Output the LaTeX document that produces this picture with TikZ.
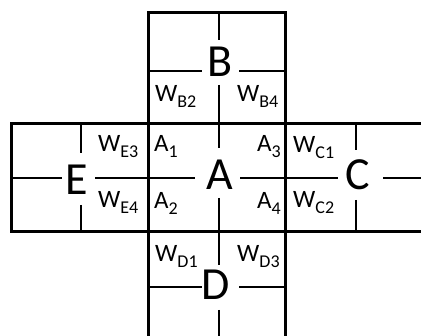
\documentclass[tikz,border=0pt]{standalone}
\usepackage{fontspec}
\setmainfont{Carlito}
\newcommand{\biglet}[1]{\fontsize{46}{46}\selectfont #1}
\newcommand{\sublab}[2]{{\fontsize{25}{25}\selectfont #1}\raisebox{-5.5pt}{\fontsize{18}{18}\selectfont #2}}
\begin{document}
\begin{tikzpicture}[x=1pt,y=-1pt,
  border/.style={line width=3pt},
  cross/.style={line width=1.8pt},
  lbl/.style={inner sep=0pt,anchor=base west},
  letter/.style={inner sep=0pt,anchor=base}]
\useasboundingbox (0,0) rectangle (421,336);
\begin{scope}
\clip (0,0) rectangle (421,336);
% outer borders
\draw[border] (148,13) rectangle (285,124);
\draw[border] (11,124) rectangle (440,232);
\draw[border] (148,124) -- (148,350) (285,124) -- (285,350);
% B cross
\draw[cross] (219,13) -- (219,40) (219,85) -- (219,124);
\draw[cross] (148,71) -- (202,71) (239,71) -- (285,71);
% A cross
\draw[cross] (219,124) -- (219,148) (219,198) -- (219,232);
\draw[cross] (148,178) -- (195,178) (240,178) -- (285,178);
% E cross
\draw[cross] (81,124) -- (81,153) (81,205) -- (81,232);
\draw[cross] (11,178) -- (62,178) (95,178) -- (148,178);
% C cross
\draw[cross] (356,124) -- (356,150) (356,200) -- (356,232);
\draw[cross] (285,178) -- (338,178) (383,178) -- (440,178);
% D cross
\draw[cross] (219,232) -- (219,265) (219,310) -- (219,350);
\draw[cross] (148,287) -- (202,287) (239,287) -- (285,287);
\end{scope}
% big letters
\node[letter] (B) at (220,77) {\biglet{B}};
\node[letter] (A) at (220,190) {\biglet{A}};
\node[letter] (E) at (77,195) {\biglet{E}};
\node[letter] (C) at (358,190) {\biglet{C}};
\node[letter] (D) at (216,300) {\biglet{D}};
% small labels
\node[lbl] (wb2) at (155,102) {\sublab{W}{B2}};
\node[lbl] (wb4) at (237,102) {\sublab{W}{B4}};
\node[lbl] (we3) at (98,152) {\sublab{W}{E3}};
\node[lbl] (we4) at (98,208) {\sublab{W}{E4}};
\node[lbl] (wc1) at (293,153) {\sublab{W}{C1}};
\node[lbl] (wc2) at (293,208) {\sublab{W}{C2}};
\node[lbl] (wd1) at (155,262) {\sublab{W}{D1}};
\node[lbl] (wd3) at (237,262) {\sublab{W}{D3}};
\node[lbl] (a1) at (154,152) {\sublab{A}{1}};
\node[lbl] (a2) at (154,209) {\sublab{A}{2}};
\node[lbl] (a3) at (257,152) {\sublab{A}{3}};
\node[lbl] (a4) at (257,209) {\sublab{A}{4}};
\end{tikzpicture}
\end{document}
